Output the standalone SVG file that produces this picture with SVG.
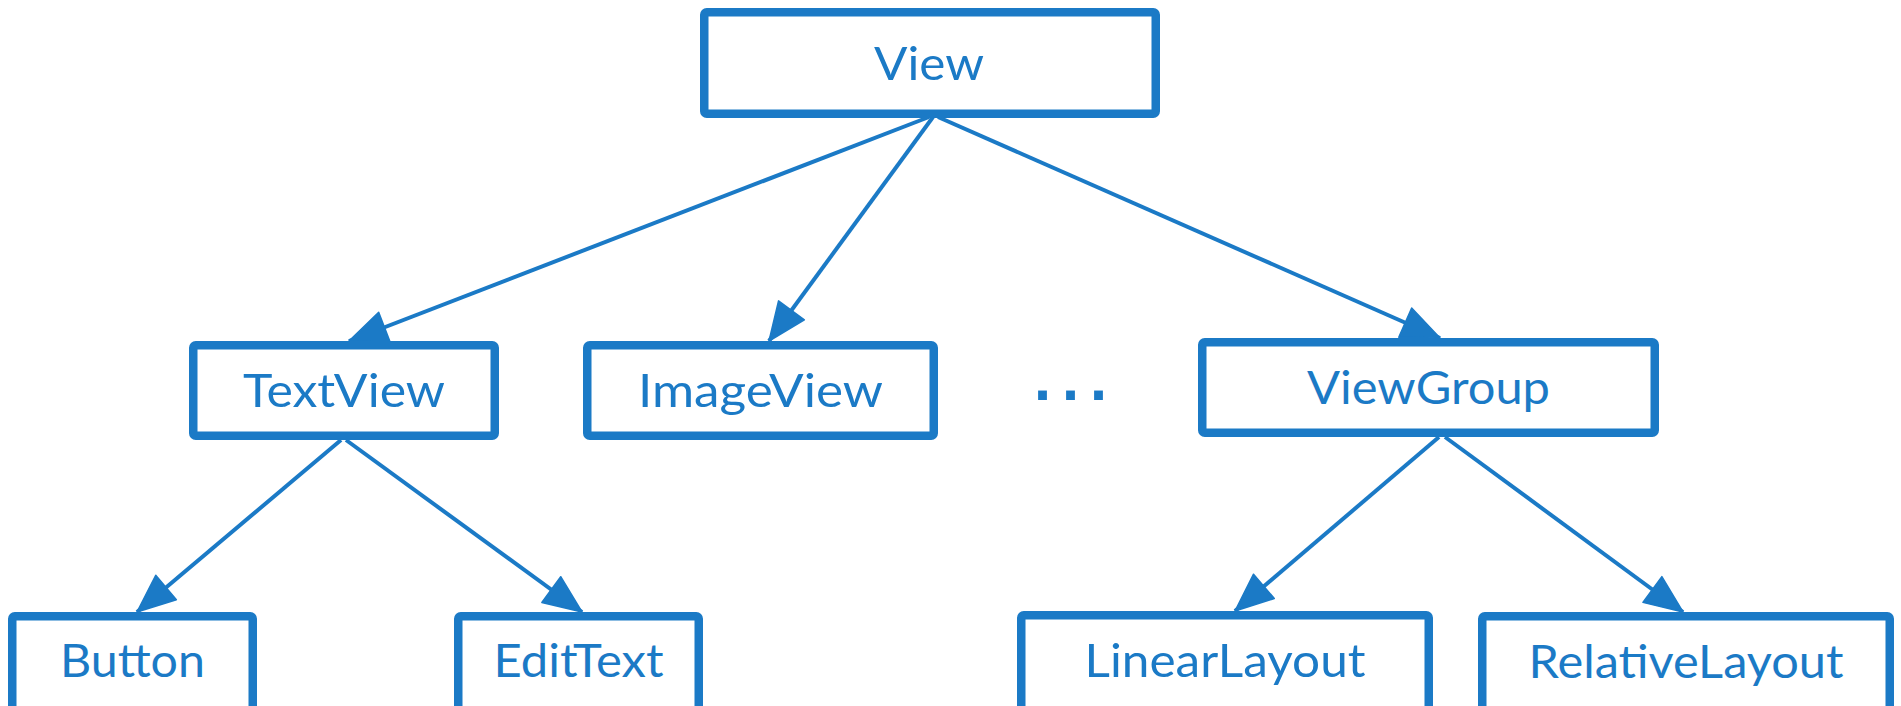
<svg xmlns="http://www.w3.org/2000/svg" width="1901" height="706" viewBox="0 0 1901 706">
<defs>
<style>
.box{fill:#ffffff;stroke:#1b7ac6;stroke-width:8.5}
.lbl{font-family:Lato,"Open Sans","Liberation Sans",sans-serif;font-size:47px;fill:#1b7ac6;text-anchor:middle}
.edge{stroke:#1b7ac6;stroke-width:4;fill:none}
.head{fill:#1b7ac6;stroke:#1b7ac6;stroke-width:1.5;stroke-linejoin:round}
</style>
<marker id="arr" markerUnits="userSpaceOnUse" markerWidth="42" markerHeight="36" viewBox="-2 -2 42 36" refX="38" refY="16" orient="auto" overflow="visible">
<path class="head" d="M0,0 L38,16 L0,32 Z"/>
</marker>
</defs>
<rect width="1901" height="706" fill="#ffffff"/>
<g id="connectors">
<line class="edge" x1="929" y1="117" x2="349" y2="341" marker-end="url(#arr)"/>
<line class="edge" x1="933" y1="117" x2="769" y2="341" marker-end="url(#arr)"/>
<line class="edge" x1="938" y1="117" x2="1440" y2="338" marker-end="url(#arr)"/>
<line class="edge" x1="341" y1="440" x2="137" y2="612" marker-end="url(#arr)"/>
<line class="edge" x1="346" y1="440" x2="582" y2="612" marker-end="url(#arr)"/>
<line class="edge" x1="1439" y1="437" x2="1235" y2="611" marker-end="url(#arr)"/>
<line class="edge" x1="1445" y1="437" x2="1683" y2="612" marker-end="url(#arr)"/>
</g>
<g id="node-view">
<rect class="box" x="704.25" y="12.25" width="451.5" height="101.5" rx="2.5"/>
<text class="lbl" x="929" y="80" textLength="110" lengthAdjust="spacingAndGlyphs">View</text>
</g>
<g id="node-textview">
<rect class="box" x="193.25" y="345.25" width="301.5" height="90.5" rx="2.5"/>
<text class="lbl" x="344" y="407" textLength="202" lengthAdjust="spacingAndGlyphs">TextView</text>
</g>
<g id="node-imageview">
<rect class="box" x="587.25" y="345.25" width="346.5" height="90.5" rx="2.5"/>
<text class="lbl" x="760.5" y="407" textLength="245" lengthAdjust="spacingAndGlyphs">ImageView</text>
</g>
<g id="node-dots">
<text x="1075" y="400" font-family="'DejaVu Sans',sans-serif" font-weight="bold" font-size="50" fill="#1b7ac6" text-anchor="middle" letter-spacing="9">...</text>
</g>
<g id="node-viewgroup">
<rect class="box" x="1202.25" y="342.25" width="452.5" height="90.5" rx="2.5"/>
<text class="lbl" x="1428.5" y="404" textLength="243" lengthAdjust="spacingAndGlyphs">ViewGroup</text>
</g>
<g id="node-button">
<rect class="box" x="12.25" y="616.25" width="240.5" height="100" rx="2.5"/>
<text class="lbl" x="132.5" y="677" textLength="145" lengthAdjust="spacingAndGlyphs">Button</text>
</g>
<g id="node-edittext">
<rect class="box" x="458.25" y="616.25" width="240.5" height="100" rx="2.5"/>
<text class="lbl" x="578.5" y="677" textLength="170" lengthAdjust="spacingAndGlyphs">EditText</text>
</g>
<g id="node-linearlayout">
<rect class="box" x="1021.25" y="615.25" width="407.5" height="100" rx="2.5"/>
<text class="lbl" x="1225" y="677" textLength="281" lengthAdjust="spacingAndGlyphs">LinearLayout</text>
</g>
<g id="node-relativelayout">
<rect class="box" x="1482.25" y="616.25" width="407.5" height="100" rx="2.5"/>
<text class="lbl" x="1686" y="678" textLength="315" lengthAdjust="spacingAndGlyphs">RelativeLayout</text>
</g>
</svg>
